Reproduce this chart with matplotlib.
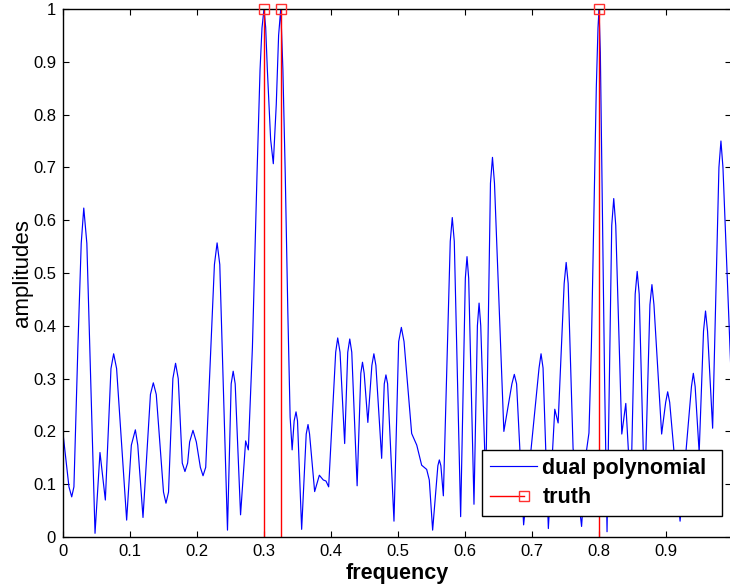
import numpy as np
import matplotlib
matplotlib.use('Agg')
import matplotlib.pyplot as plt
from matplotlib.legend_handler import HandlerLine2D
from matplotlib.lines import Line2D

plt.rcParams['font.family'] = ['Liberation Sans', 'DejaVu Sans']

# dual polynomial (peaks, troughs and shoulders)
freq = [0.000, 0.0089, 0.013, 0.0163, 0.0222, 0.0272, 0.031, 0.0356, 0.040, 0.0478,
        0.0552, 0.0632, 0.0716, 0.0756, 0.080, 0.095, 0.102, 0.108, 0.1116, 0.1194,
        0.1305, 0.1348, 0.1392, 0.150, 0.1537, 0.1575, 0.164, 0.168, 0.172, 0.178,
        0.182, 0.186, 0.189, 0.194, 0.199, 0.205, 0.209, 0.213, 0.226, 0.230,
        0.234, 0.2455, 0.251, 0.254, 0.257, 0.265, 0.2726, 0.2766, 0.2827, 0.2896,
        0.2941, 0.297, 0.300, 0.3025, 0.305, 0.3099, 0.3139, 0.3183, 0.3218, 0.325,
        0.3282, 0.3317, 0.3356, 0.339, 0.342, 0.345, 0.3478, 0.350, 0.3562, 0.363,
        0.3657, 0.368, 0.3756, 0.3826, 0.3885, 0.3925, 0.3965, 0.407, 0.410, 0.4135,
        0.4204, 0.425, 0.428, 0.431, 0.439, 0.4445, 0.447, 0.4495, 0.455, 0.461,
        0.464, 0.467, 0.4756, 0.4795, 0.482, 0.4845, 0.494, 0.501, 0.505, 0.509,
        0.5154, 0.5204, 0.528, 0.5353, 0.5428, 0.5467, 0.5517, 0.5595, 0.5617, 0.564,
        0.5677, 0.578, 0.581, 0.584, 0.5935, 0.6005, 0.603, 0.6055, 0.6134, 0.6185,
        0.621, 0.6235, 0.631, 0.638, 0.641, 0.644, 0.658, 0.670, 0.6736, 0.677,
        0.6875, 0.7016, 0.7105, 0.7135, 0.7165, 0.7244, 0.734, 0.739, 0.748, 0.751,
        0.754, 0.7613, 0.774, 0.7815, 0.785, 0.7886, 0.7926, 0.796, 0.7985, 0.800,
        0.802, 0.805, 0.8084, 0.812, 0.819, 0.822, 0.825, 0.834, 0.840, 0.8475,
        0.854, 0.857, 0.860, 0.868, 0.876, 0.879, 0.882, 0.8935, 0.8995, 0.9025,
        0.9055, 0.921, 0.938, 0.9408, 0.9435, 0.9495, 0.956, 0.959, 0.962, 0.9696,
        0.979, 0.982, 0.985, 0.997]
amp = [0.196, 0.095, 0.076, 0.095, 0.359, 0.556, 0.623, 0.556, 0.359, 0.007,
       0.160, 0.070, 0.319, 0.347, 0.319, 0.032, 0.174, 0.203, 0.174, 0.037,
       0.270, 0.292, 0.270, 0.085, 0.064, 0.085, 0.300, 0.329, 0.300, 0.140,
       0.124, 0.140, 0.180, 0.202, 0.180, 0.132, 0.116, 0.132, 0.516, 0.557,
       0.516, 0.013, 0.290, 0.314, 0.290, 0.042, 0.182, 0.165, 0.359, 0.688,
       0.885, 0.964, 1.000, 0.965, 0.885, 0.753, 0.707, 0.819, 0.950, 1.000,
       0.885, 0.688, 0.424, 0.227, 0.165, 0.220, 0.237, 0.220, 0.0145, 0.195,
       0.213, 0.195, 0.086, 0.117, 0.108, 0.106, 0.095, 0.350, 0.377, 0.350,
       0.177, 0.350, 0.375, 0.350, 0.097, 0.310, 0.331, 0.310, 0.217, 0.325,
       0.347, 0.325, 0.149, 0.290, 0.307, 0.290, 0.030, 0.370, 0.397, 0.370,
       0.272, 0.196, 0.174, 0.136, 0.128, 0.108, 0.013, 0.135, 0.146, 0.135,
       0.078, 0.560, 0.605, 0.560, 0.0385, 0.490, 0.531, 0.490, 0.062, 0.400,
       0.443, 0.400, 0.100, 0.670, 0.719, 0.670, 0.200, 0.290, 0.308, 0.290,
       0.023, 0.206, 0.320, 0.347, 0.320, 0.016, 0.242, 0.216, 0.480, 0.520,
       0.480, 0.168, 0.020, 0.165, 0.197, 0.359, 0.620, 0.852, 0.964, 1.000,
       0.918, 0.620, 0.293, 0.010, 0.590, 0.641, 0.590, 0.195, 0.253, 0.080,
       0.460, 0.503, 0.460, 0.070, 0.440, 0.478, 0.440, 0.195, 0.255, 0.275,
       0.255, 0.030, 0.285, 0.310, 0.285, 0.160, 0.390, 0.428, 0.390, 0.206,
       0.700, 0.750, 0.700, 0.310]

# true spikes
truth_freq = [0.3, 0.325, 0.8]
truth_amp = [1.0, 1.0, 1.0]

xticks = [0, 0.1, 0.2, 0.3, 0.4, 0.5, 0.6, 0.7, 0.8, 0.9]
xticklabels = ['0', '0.1', '0.2', '0.3', '0.4', '0.5', '0.6', '0.7', '0.8', '0.9']
yticks = [0, 0.1, 0.2, 0.3, 0.4, 0.5, 0.6, 0.7, 0.8, 0.9, 1]
yticklabels = ['0', '0.1', '0.2', '0.3', '0.4', '0.5', '0.6', '0.7', '0.8', '0.9', '1']


class StemHandler(HandlerLine2D):
    # matlab style stem legend entry: line with the marker at its end
    def create_artists(self, legend, orig_handle, xdescent, ydescent,
                       width, height, fontsize, trans):
        y = (height - ydescent) / 2
        x0 = -xdescent
        x1 = -xdescent + 0.72 * width
        ln = Line2D([x0, x1], [y, y], color='#ff0000', lw=1.0)
        mk = Line2D([x1], [y], marker='s', ms=6.5, mfc='none', mec='#ff3030',
                    mew=1.0, linestyle='none')
        ln.set_transform(trans)
        mk.set_transform(trans)
        return [ln, mk]


fig = plt.figure(figsize=(7.30, 5.88), dpi=100)
ax = fig.add_axes([63 / 730, 51 / 588, 668 / 730, 528 / 588])

h1, = ax.plot(freq, amp, color='blue', lw=0.85, label='dual polynomial')
ax.vlines(truth_freq, 0, truth_amp, color='#ff0000', lw=1.0)
ax.plot(truth_freq, truth_amp, 's', mfc='none', mec='#ff3030', ms=6.5, mew=1.0,
        clip_on=False, zorder=5)
h2 = Line2D([], [], color='red', marker='s', label='truth')

ax.set_xlim(0, 668 / 670)
ax.set_ylim(0, 1)
ax.set_xticks(xticks)
ax.set_xticklabels(xticklabels)
ax.set_yticks(yticks)
ax.set_yticklabels(yticklabels)
ax.tick_params(direction='in', length=4.5, width=0.8, labelsize=12,
               top=True, right=True, pad=5)
for s in ax.spines.values():
    s.set_linewidth(1.0)

ax.set_xlabel('frequency', fontsize=15.5, fontweight='bold', labelpad=3)
ax.set_ylabel('amplitudes', fontsize=16, labelpad=0)

leg = ax.legend(handles=[h1, h2], handler_map={h2: StemHandler()},
                loc='lower left',
                bbox_to_anchor=(482 / 730, 72 / 588, 240 / 730, 65 / 588),
                bbox_transform=fig.transFigure, borderaxespad=0, mode='expand',
                prop={'weight': 'bold', 'size': 15.5}, fancybox=False,
                framealpha=1, edgecolor='black', handlelength=2.2,
                handletextpad=0.25, borderpad=0.35, labelspacing=0.4)
leg.get_frame().set_linewidth(1.0)

fig.savefig('out.png', dpi=100)
